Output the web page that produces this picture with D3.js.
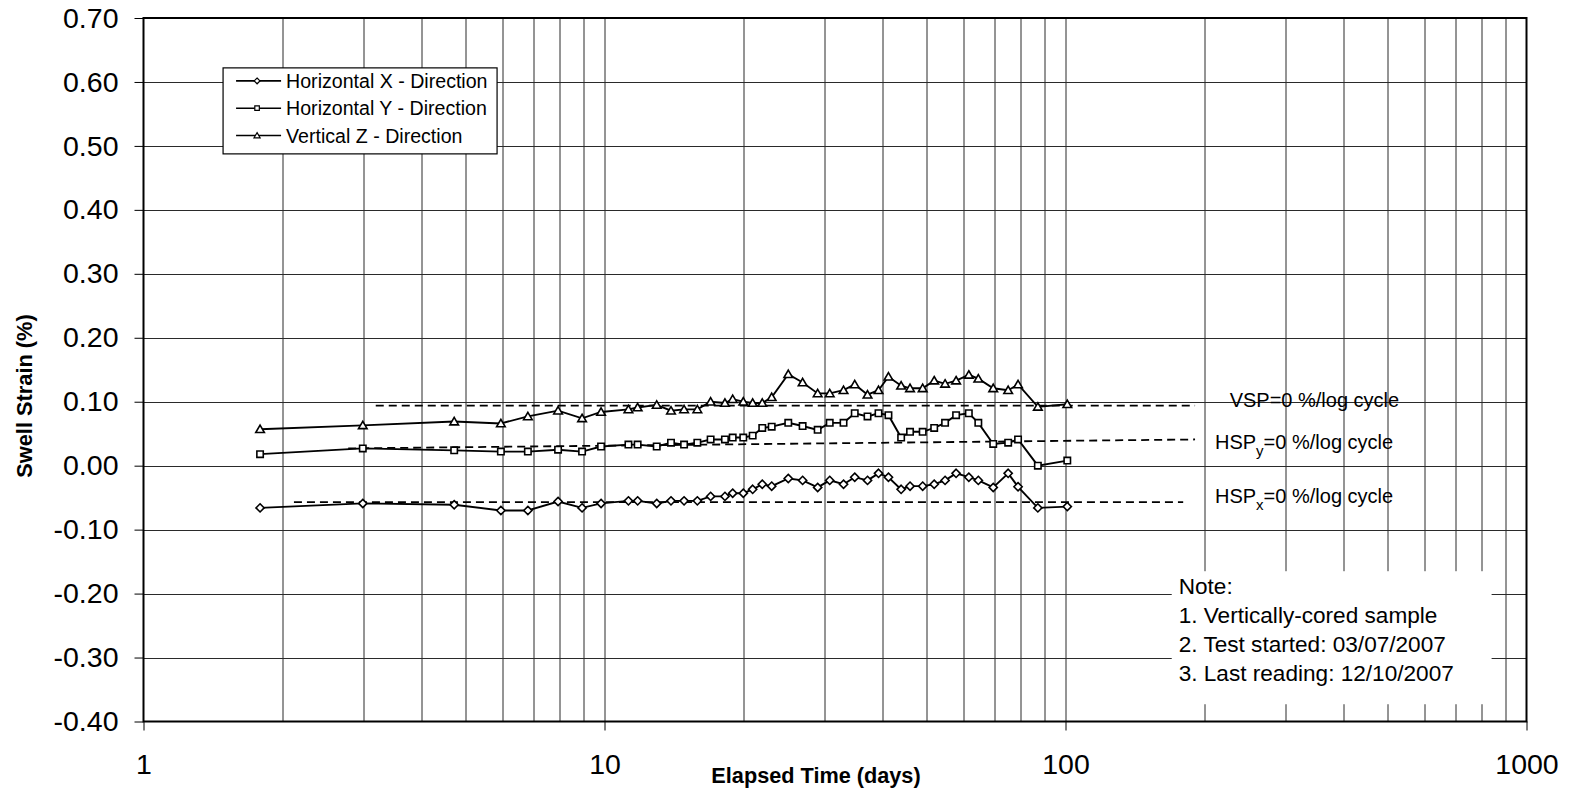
<!DOCTYPE html>
<html>
<head>
<meta charset="utf-8">
<script src="https://cdn.jsdelivr.net/npm/d3@7"></script>
<style>
  body { margin: 0; background: #fff; }
  text { font-family: "Liberation Sans", Arial, sans-serif; fill: #000; }
</style>
</head>
<body>
<div id="chart"></div>
<script>
// readings (days since start) and swell strain (%) for the three directions
var days = [1.79, 2.99, 4.72, 5.96, 6.82, 7.93, 8.94, 9.83, 11.27, 11.8, 12.98, 13.94, 14.88, 15.9,
  16.99, 18.25, 18.97, 20.0, 20.96, 21.99, 23.05, 25.04, 26.9, 29.0, 30.8, 33.0, 34.9, 37.2, 39.3,
  41.3, 44.0, 46.0, 49.0, 51.9, 54.8, 57.9, 61.7, 64.7, 69.7, 75.1, 78.9, 87.1, 100.9];

var strainX = [-0.066, -0.059, -0.061, -0.070, -0.070, -0.056, -0.066, -0.059, -0.055, -0.055, -0.059,
  -0.055, -0.055, -0.055, -0.048, -0.048, -0.043, -0.043, -0.037, -0.029, -0.032, -0.020, -0.023,
  -0.034, -0.023, -0.029, -0.018, -0.023, -0.012, -0.018, -0.037, -0.032, -0.032, -0.029, -0.023,
  -0.012, -0.018, -0.023, -0.034, -0.012, -0.033, -0.066, -0.064];

var strainY = [0.018, 0.027, 0.024, 0.022, 0.022, 0.025, 0.022, 0.030, 0.033, 0.033, 0.030, 0.036,
  0.033, 0.036, 0.041, 0.041, 0.044, 0.044, 0.047, 0.059, 0.061, 0.067, 0.062, 0.056, 0.067, 0.067,
  0.082, 0.077, 0.082, 0.079, 0.044, 0.053, 0.053, 0.059, 0.067, 0.079, 0.082, 0.067, 0.034, 0.036,
  0.041, 0.000, 0.008];

var strainZ = [0.057, 0.063, 0.069, 0.066, 0.077, 0.086, 0.074, 0.084, 0.088, 0.091, 0.095, 0.086,
  0.088, 0.088, 0.100, 0.098, 0.104, 0.100, 0.098, 0.098, 0.107, 0.143, 0.130, 0.113, 0.113, 0.118,
  0.127, 0.111, 0.118, 0.139, 0.125, 0.121, 0.121, 0.133, 0.128, 0.133, 0.142, 0.136, 0.121, 0.118,
  0.127, 0.092, 0.096];

var seriesNames = ["Horizontal X - Direction", "Horizontal Y - Direction", "Vertical Z - Direction"];
var seriesSymbols = ["diamond", "square", "triangle"];

// dashed swell-per-log-cycle lines: [start day, end day] and [start, end] strain
var trendDays = [[2.12, 180], [2.78, 191], [3.19, 191]];
var trendStrain = [[-0.057, -0.057], [0.027, 0.041], [0.094, 0.094]];

var xTicks = [1, 10, 100, 1000];
var yTicks = [-0.4, -0.3, -0.2, -0.1, 0, 0.1, 0.2, 0.3, 0.4, 0.5, 0.6, 0.7];

var noteLines = ["Note:", "1. Vertically-cored sample", "2. Test started: 03/07/2007", "3. Last reading: 12/10/2007"];

// set the dimensions and margins of the graph
var margin = {top: 18, right: 45.5, bottom: 71.5, left: 143.5},
    width = 1572 - margin.left - margin.right,
    height = 793 - margin.top - margin.bottom;

const svgRoot = d3.select("#chart")
  .append("svg")
    .attr("width", 1572)
    .attr("height", 793);

const svg = svgRoot.append("g")
    .attr("transform", `translate(${margin.left},${margin.top})`);

const x = d3.scaleLog().domain([1, 1000]).range([0, width]);
const y = d3.scaleLinear().domain([-0.4, 0.7]).range([height, 0]);

const px = v => Math.round(v) + 0.5;

// minor + major vertical grid
var gridDays = [];
[1, 10, 100].forEach(function(dec) {
  for (var k = 1; k < 10; k++) gridDays.push(dec * k);
});
gridDays = gridDays.filter(d => d > 1);

svg.append("g")
  .selectAll("line")
  .data(gridDays)
  .join("line")
    .attr("x1", d => px(x(d))).attr("x2", d => px(x(d)))
    .attr("y1", 0).attr("y2", height)
    .attr("stroke", "#2a2a2a").attr("stroke-width", 1);

svg.append("g")
  .selectAll("line")
  .data(yTicks.slice(1, -1))
  .join("line")
    .attr("x1", 0).attr("x2", width)
    .attr("y1", d => px(y(d))).attr("y2", d => px(y(d)))
    .attr("stroke", "#2a2a2a").attr("stroke-width", 1);

// Y axis
svg.append("g")
  .call(d3.axisLeft(y).tickValues(yTicks).tickFormat(d => d.toFixed(2)).tickSize(9).tickPadding(16))
  .call(g => g.select(".domain").remove())
  .call(g => g.selectAll("line").attr("stroke", "#000"))
  .selectAll("text")
    .style("font-size", "28.5px")
    .style("font-family", "'Liberation Sans', Arial, sans-serif");

// X axis
svg.append("g")
  .attr("transform", `translate(0, ${height})`)
  .call(d3.axisBottom(x).tickValues(xTicks).tickFormat(d3.format("d")).tickSize(9).tickPadding(23))
  .call(g => g.select(".domain").remove())
  .call(g => g.selectAll("line").attr("stroke", "#000"))
  .selectAll("text")
    .style("font-size", "28.5px")
    .style("font-family", "'Liberation Sans', Arial, sans-serif");

// note box (white, covers grid)
var noteG = svg.append("g");
noteG.append("rect")
  .attr("x", x(170)).attr("y", y(-0.165))
  .attr("width", x(840) - x(170)).attr("height", y(-0.373) - y(-0.165))
  .attr("fill", "#fff");
noteG.selectAll("text")
  .data(noteLines)
  .join("text")
    .attr("x", x(176))
    .attr("y", (d, i) => y(-0.2) + i * 29.2)
    .style("font-size", "22.6px")
    .text(d => d);

// trend lines
var trendData = trendDays.map((d, i) => d.map((t, j) => [t, trendStrain[i][j]]));
svg.append("g")
  .selectAll("path")
  .data(trendData)
  .join("path")
    .attr("d", d3.line().x(d => x(d[0])).y(d => y(d[1])))
    .attr("fill", "none")
    .attr("stroke", "#000")
    .attr("stroke-width", 1.8)
    .attr("stroke-dasharray", "8,5");

// trend labels
var lbl = svg.append("g").style("font-size", "20px");
lbl.append("text").attr("x", x(227)).attr("y", y(0.0925)).text("VSP=0 %/log cycle");
[["y", 0.0255], ["x", -0.059]].forEach(function(p) {
  var t = lbl.append("text").attr("x", x(211)).attr("y", y(p[1]));
  t.append("tspan").text("HSP");
  t.append("tspan").attr("dy", 7).style("font-size", "15px").text(p[0]);
  t.append("tspan").attr("dy", -7).text("=0 %/log cycle");
});

// symbol paths
function symbolPath(type, s) {
  if (type === "diamond") return `M0,${-s}L${s},0L0,${s}L${-s},0Z`;
  if (type === "square") return `M${-s * 0.78},${-s * 0.78}h${s * 1.56}v${s * 1.56}h${-s * 1.56}Z`;
  return `M0,${-s * 1.0}L${s * 1.05},${s * 0.8}L${-s * 1.05},${s * 0.8}Z`;
}

var series = [strainX, strainY, strainZ].map((vals, i) => ({
  name: seriesNames[i], symbol: seriesSymbols[i],
  points: vals.map((v, j) => [days[j], v])
}));

var line = d3.line().x(d => x(d[0])).y(d => y(d[1]));

series.forEach(function(s) {
  svg.append("path")
    .datum(s.points)
    .attr("d", line)
    .attr("fill", "none")
    .attr("stroke", "#000")
    .attr("stroke-width", 1.9);
  svg.append("g")
    .selectAll("path")
    .data(s.points)
    .join("path")
      .attr("transform", d => `translate(${x(d[0])},${y(d[1])})`)
      .attr("d", symbolPath(s.symbol, 4.1))
      .attr("fill", "#fff")
      .attr("stroke", "#000")
      .attr("stroke-width", 1.6);
});

// frame
svg.append("rect")
  .attr("x", 0).attr("y", 0).attr("width", width).attr("height", height)
  .attr("fill", "none").attr("stroke", "#000").attr("stroke-width", 2);

// legend
var legend = svg.append("g").attr("transform", `translate(${x(1.488)},${y(0.622)})`);
legend.append("rect")
  .attr("width", 274).attr("height", 86)
  .attr("fill", "#fff").attr("stroke", "#000").attr("stroke-width", 1.2);
series.forEach(function(s, i) {
  var row = legend.append("g").attr("transform", `translate(0, ${13 + i * 27.3})`);
  row.append("line").attr("x1", 13).attr("x2", 58).attr("stroke", "#000").attr("stroke-width", 1.6);
  row.append("path").attr("transform", "translate(34,0)")
    .attr("d", symbolPath(s.symbol, 2.9))
    .attr("fill", "#fff").attr("stroke", "#000").attr("stroke-width", 1.2);
  row.append("text").attr("x", 63).attr("y", 7.3).style("font-size", "19.6px").text(s.name);
});

// axis titles
svgRoot.append("text")
  .attr("x", 816).attr("y", 783)
  .attr("text-anchor", "middle")
  .style("font-size", "21.7px").style("font-weight", "bold")
  .text("Elapsed Time (days)");

svgRoot.append("text")
  .attr("transform", "translate(32,396) rotate(-90)")
  .attr("text-anchor", "middle")
  .style("font-size", "21.8px").style("font-weight", "bold")
  .text("Swell Strain (%)");
</script>
</body>
</html>
